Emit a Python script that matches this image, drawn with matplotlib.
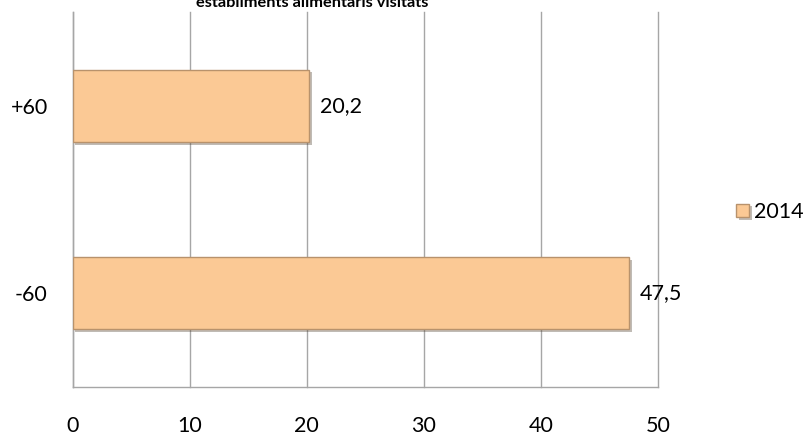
import matplotlib
matplotlib.use("Agg")
import matplotlib.pyplot as plt
import matplotlib.patheffects as pe

categories = ["-60", "+60"]
values_2014 = [47.5, 20.2]
value_labels = ["47,5", "20,2"]
series_name = "2014"
x_ticks = [0, 10, 20, 30, 40, 50]
title = "establiments alimentaris visitats"

plt.rcParams['font.family'] = ['Lato', 'DejaVu Sans']

fig = plt.figure(figsize=(8.08, 4.34), dpi=100)
ax = fig.add_axes([72.7/808, 1-387/434, (658-72.7)/808, (387-12)/434])

ypos = list(range(len(categories)))
bars = ax.barh(ypos, values_2014, height=0.385, color='#FBC995',
               edgecolor='#B8926C', linewidth=1.0, label=series_name, zorder=3)
for b in bars:
    b.set_path_effects([pe.SimplePatchShadow(offset=(2, -2), alpha=0.35), pe.Normal()])

for y, v, lab in zip(ypos, values_2014, value_labels):
    ax.annotate(lab, (v, y), xytext=(8, 0), textcoords='offset points',
                va='center', ha='left', fontsize=15.5, color='black')

ax.set_xlim(0, 50)
ax.set_ylim(-0.5, 1.5)
ax.set_xticks(x_ticks)
ax.set_xticklabels([str(t) for t in x_ticks])
ax.set_yticks(ypos)
ax.set_yticklabels(categories)
ax.tick_params(axis='both', length=0, labelsize=15.5)
ax.tick_params(axis='x', pad=21)
ax.tick_params(axis='y', pad=18)
ax.grid(axis='x', color='#A6A6A6', linewidth=1.0, zorder=0)
for gl in ax.get_xgridlines():
    gl.set_clip_on(False)
ax.set_axisbelow(True)
for s in ['top', 'right']:
    ax.spines[s].set_visible(False)
for s in ['left', 'bottom']:
    ax.spines[s].set_color('#A6A6A6')
    ax.spines[s].set_linewidth(1.0)

fig.text((200+425)/2/808, 1-7/434, title, ha='center', va='baseline',
         fontsize=11.8, fontweight='bold')

fig.legend(loc='center left', bbox_to_anchor=(736/808, 1-212/434), frameon=False,
           fontsize=15.5, handlelength=0.6, handleheight=0.6, handletextpad=0.25,
           borderpad=0, borderaxespad=0)

fig.savefig('out.png', dpi=100)
